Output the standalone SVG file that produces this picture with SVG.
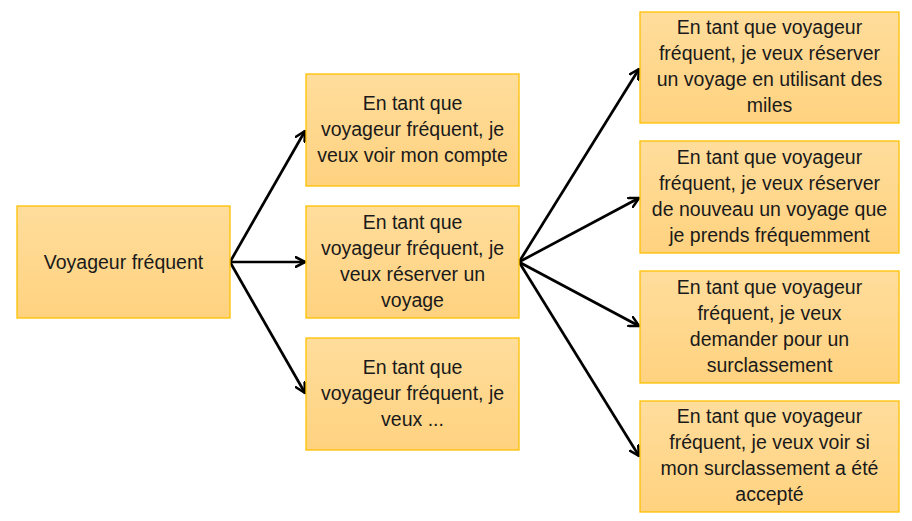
<svg xmlns="http://www.w3.org/2000/svg" width="912" height="521" viewBox="0 0 912 521">
<defs>
<linearGradient id="g" x1="0" y1="0" x2="0" y2="1">
<stop offset="0" stop-color="#FFDD9C"/>
<stop offset="1" stop-color="#FFD27F"/>
</linearGradient>
<marker id="arr" viewBox="0 0 12 12" refX="10.5" refY="6" markerWidth="12" markerHeight="12" markerUnits="userSpaceOnUse" orient="auto">
<path d="M1,1 L10.5,6 L1,11" fill="none" stroke="#000" stroke-width="2.6" stroke-linecap="round" stroke-linejoin="round"/>
</marker>
<style>
.box{fill:url(#g);stroke:#FFC000;stroke-width:1.3}
.t{font-family:"Liberation Sans",Arial,sans-serif;font-size:19.5px;fill:#1a1a1a;text-anchor:middle}
.c{fill:none;stroke:#000;stroke-width:2.7;marker-end:url(#arr)}
</style>
</defs>
<rect width="912" height="521" fill="#fff"/>
<g id="connectors">
<line class="c" x1="230" y1="262" x2="305" y2="131"/>
<line class="c" x1="230" y1="262" x2="305" y2="262"/>
<line class="c" x1="230" y1="262" x2="305" y2="393"/>
<line class="c" x1="519" y1="262" x2="639" y2="69"/>
<line class="c" x1="519" y1="262" x2="639" y2="198"/>
<line class="c" x1="519" y1="262" x2="639" y2="326"/>
<line class="c" x1="519" y1="262" x2="639" y2="456"/>
</g>
<g id="root">
<rect class="box" x="17" y="206" width="213" height="112"/>
<text class="t" x="123.5" y="269">Voyageur fréquent</text>
</g>
<g id="m1">
<rect class="box" x="306" y="74" width="213" height="112"/>
<text class="t" x="412.5" y="110">En tant que</text>
<text class="t" x="412.5" y="136">voyageur fréquent, je</text>
<text class="t" x="412.5" y="162">veux voir mon compte</text>
</g>
<g id="m2">
<rect class="box" x="306" y="206" width="213" height="112"/>
<text class="t" x="412.5" y="229">En tant que</text>
<text class="t" x="412.5" y="255">voyageur fréquent, je</text>
<text class="t" x="412.5" y="281">veux réserver un</text>
<text class="t" x="412.5" y="307">voyage</text>
</g>
<g id="m3">
<rect class="box" x="306" y="338" width="213" height="112"/>
<text class="t" x="412.5" y="374">En tant que</text>
<text class="t" x="412.5" y="400">voyageur fréquent, je</text>
<text class="t" x="412.5" y="426">veux ...</text>
</g>
<g id="r1">
<rect class="box" x="640" y="12" width="259" height="111"/>
<text class="t" x="769.5" y="34">En tant que voyageur</text>
<text class="t" x="769.5" y="60">fréquent, je veux réserver</text>
<text class="t" x="769.5" y="86">un voyage en utilisant des</text>
<text class="t" x="769.5" y="112">miles</text>
</g>
<g id="r2">
<rect class="box" x="640" y="141" width="259" height="112"/>
<text class="t" x="769.5" y="164">En tant que voyageur</text>
<text class="t" x="769.5" y="190">fréquent, je veux réserver</text>
<text class="t" x="769.5" y="216">de nouveau un voyage que</text>
<text class="t" x="769.5" y="242">je prends fréquemment</text>
</g>
<g id="r3">
<rect class="box" x="640" y="271" width="259" height="112"/>
<text class="t" x="769.5" y="294">En tant que voyageur</text>
<text class="t" x="769.5" y="320">fréquent, je veux</text>
<text class="t" x="769.5" y="346">demander pour un</text>
<text class="t" x="769.5" y="372">surclassement</text>
</g>
<g id="r4">
<rect class="box" x="640" y="401" width="259" height="111"/>
<text class="t" x="769.5" y="423">En tant que voyageur</text>
<text class="t" x="769.5" y="449">fréquent, je veux voir si</text>
<text class="t" x="769.5" y="475">mon surclassement a été</text>
<text class="t" x="769.5" y="501">accepté</text>
</g>
</svg>
